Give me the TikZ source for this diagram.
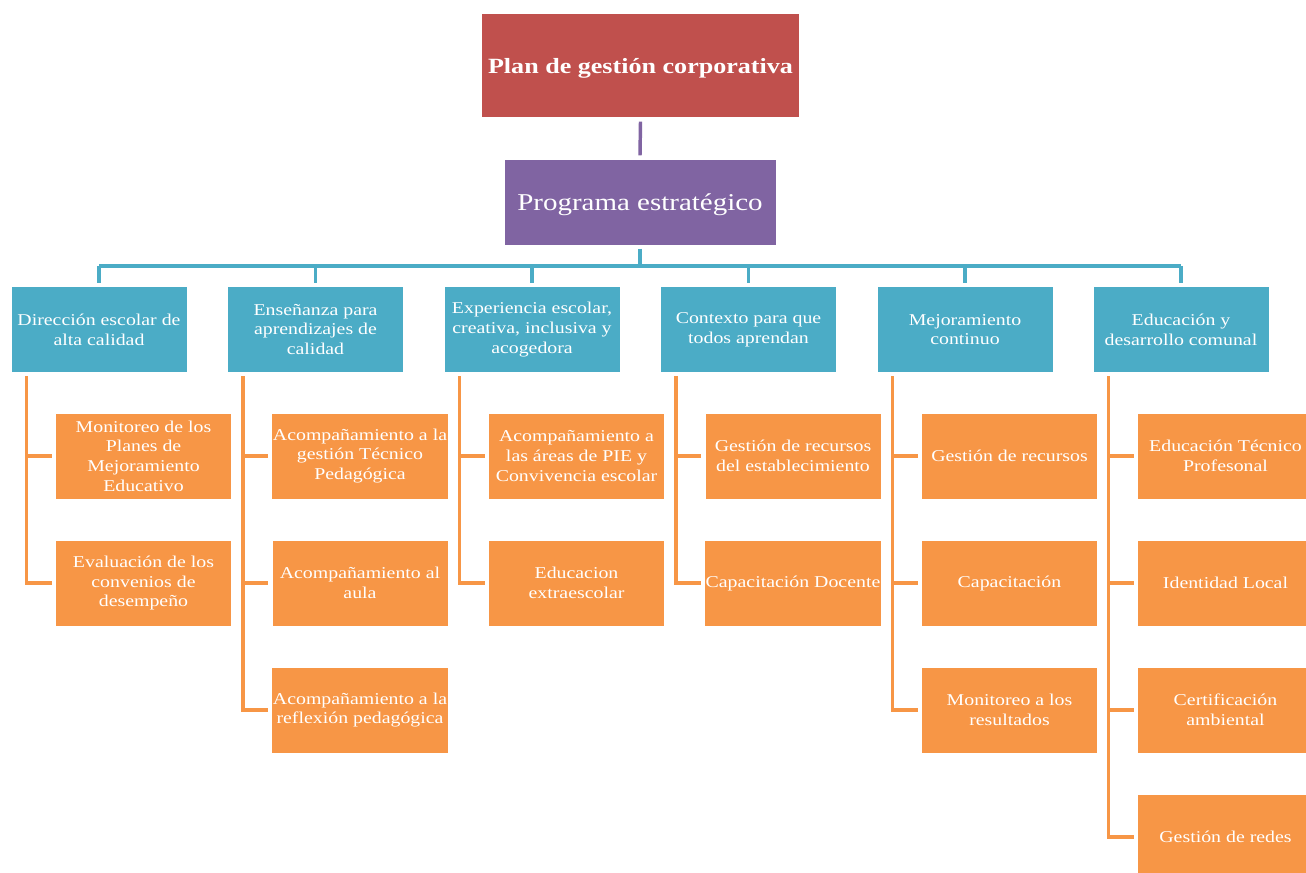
\documentclass[tikz,border=0pt]{standalone}
\usepackage{fontspec}
\setmainfont{Liberation Serif}[FakeStretch=1.2]
\definecolor{cred}{HTML}{C0504D}
\definecolor{cpur}{HTML}{8064A2}
\definecolor{cteal}{HTML}{4BACC6}
\definecolor{corg}{HTML}{F79646}
\newcommand{\lowered}[1]{\raisebox{-2.2pt}[\height][\depth]{#1}}
\tikzset{
  base/.style={draw=white, line width=0.6pt, text=white, align=center, inner sep=1pt,
    font=\fontsize{12.4}{14.8}\selectfont},
  topbox/.style={base, fill=cred, minimum width=239pt, minimum height=78.5pt,
    font=\fontsize{16.3}{19}\selectfont\bfseries},
  progbox/.style={base, fill=cpur, minimum width=204pt, minimum height=64.5pt,
    font=\fontsize{18.1}{21}\selectfont},
  catbox/.style={base, fill=cteal, minimum width=132pt, minimum height=64.5pt},
  leafbox/.style={base, fill=corg, minimum width=132pt, minimum height=64.5pt},
  pline/.style={draw=cpur, line width=2.6pt},
  tline/.style={draw=cteal, line width=2.6pt},
  oline/.style={draw=corg, line width=2.8pt},
}
\begin{document}
\begin{tikzpicture}[x=0.75pt,y=-0.75pt]
\useasboundingbox[fill=white] (0,0) rectangle (1306,872);
\node[topbox] (top) at (640.5,65.5) {\lowered{Plan de gestión corporativa}};
\node[progbox] (prog) at (640,202) {\lowered{Programa estratégico}};
\coordinate (bus) at (640,266);

\node[catbox] (c1) at (99,329.5) {Dirección escolar de\\alta calidad};
\node[catbox] (c2) at (315.5,329.5) {Enseñanza para\\aprendizajes de\\calidad};
\node[catbox] (c3) at (532,329.5) {Experiencia escolar,\\creativa, inclusiva y\\acogedora};
\node[catbox] (c4) at (748.5,329.5) {Contexto para que\\todos aprendan};
\node[catbox] (c5) at (965,329.5) {Mejoramiento\\continuo};
\node[catbox] (c6) at (1181,329.5) {Educación y\\desarrollo comunal};

\node[leafbox] (c1a) at (143.5,456) {Monitoreo de los\\Planes de\\Mejoramiento\\Educativo};
\node[leafbox] (c1b) at (143.5,583) {Evaluación de los\\convenios de\\desempeño};

\node[leafbox] (c2a) at (360,456) {Acompañamiento a la\\gestión Técnico\\Pedagógica};
\node[leafbox] (c2b) at (360,583) {Acompañamiento al\\aula};
\node[leafbox] (c2c) at (360,710) {Acompañamiento a la\\reflexión pedagógica};

\node[leafbox] (c3a) at (576.5,456) {Acompañamiento a\\las áreas de PIE y\\Convivencia escolar};
\node[leafbox] (c3b) at (576.5,583) {Educacion\\extraescolar};

\node[leafbox] (c4a) at (793,456) {Gestión de recursos\\del establecimiento};
\node[leafbox] (c4b) at (793,583) {Capacitación Docente};

\node[leafbox] (c5a) at (1009.5,456) {Gestión de recursos};
\node[leafbox] (c5b) at (1009.5,583) {Capacitación};
\node[leafbox] (c5c) at (1009.5,710) {Monitoreo a los\\resultados};

\node[leafbox] (c6a) at (1225.5,456) {Educación Técnico\\Profesonal};
\node[leafbox] (c6b) at (1225.5,583) {Identidad Local};
\node[leafbox] (c6c) at (1225.5,710) {Certificación\\ambiental};
\node[leafbox] (c6d) at (1225.5,837) {Gestión de redes};

% top connector
\draw[pline] ([yshift=-2.5pt]top.south) -- ([yshift=2.5pt]prog.north);
% teal bus
\draw[tline] ([yshift=-2.5pt]prog.south) -- (bus);
\draw[tline] (c1.north |- bus) -- (c6.north |- bus);
\foreach \c in {c1,c2,c3,c4,c5,c6}
  \draw[tline] (\c.north |- bus) -- ([yshift=2pt]\c.north);
% orange branches
\foreach \p/\k in {c1/c1a,c1/c1b,c2/c2a,c2/c2b,c2/c2c,c3/c3a,c3/c3b,c4/c4a,c4/c4b,c5/c5a,c5/c5b,c5/c5c,c6/c6a,c6/c6b,c6/c6c,c6/c6d}
  \draw[oline] ([xshift=12pt,yshift=-2.5pt]\p.south west) |- ([xshift=-2.5pt]\k.west);
\end{tikzpicture}
\end{document}
